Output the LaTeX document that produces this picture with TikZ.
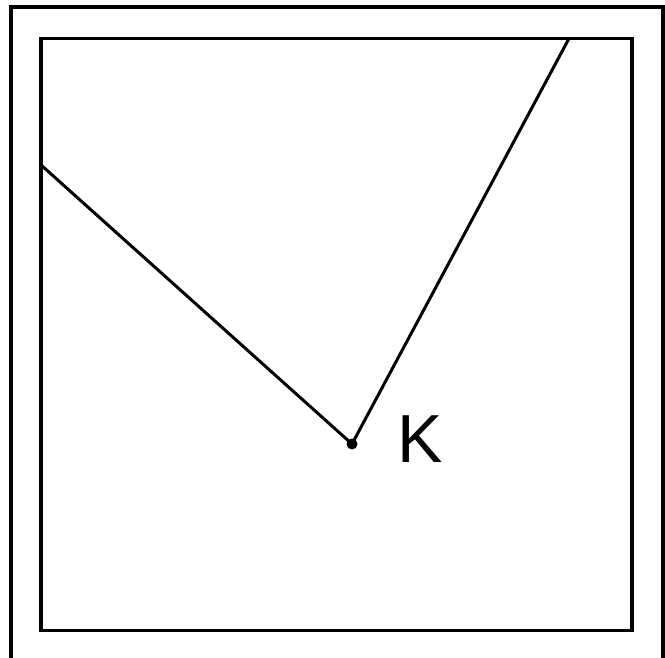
\documentclass[tikz,border=0pt]{standalone}
\usepackage{fontspec}
\setmainfont{Liberation Sans}
\begin{document}
\begin{tikzpicture}[x=1pt,y=-1pt,
  outer/.style={line width=4pt},
  inner/.style={line width=3.5pt},
  seg/.style={line width=3pt, line cap=round},
  dotmark/.style={circle, fill=black, inner sep=0pt, minimum size=11pt}]
\useasboundingbox (0,0) rectangle (665,658);
\draw[outer] (11,658) -- (11,7.5) -- (663,7.5) -- (663,658);
\draw[inner] (41,38.5) rectangle (632,630.5);
\coordinate (L) at (41,165);
\coordinate (T) at (569,38.5);
\node[dotmark] (K) at (352,444) {};
\draw[seg] (L) -- (K.center) -- (T);
\node[anchor=base west, inner sep=0pt, font=\fontsize{68}{68}\selectfont] (Klabel) at (397,462) {K};
\end{tikzpicture}
\end{document}
